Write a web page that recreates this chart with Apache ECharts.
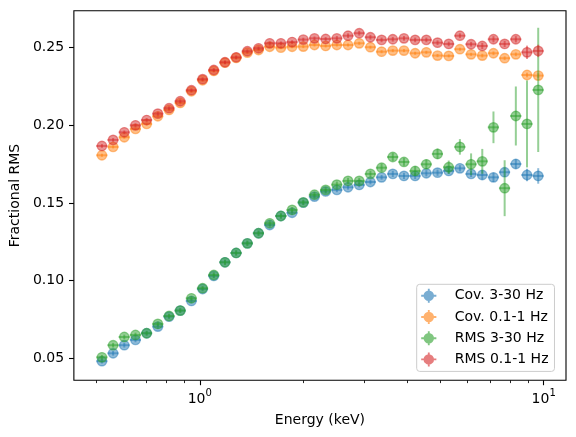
<!DOCTYPE html>
<html><head><meta charset="utf-8">
<script src="https://cdn.jsdelivr.net/npm/echarts@6/dist/echarts.min.js"></script>
<style>html,body{margin:0;padding:0;background:#fff}#c{width:576px;height:437px}</style>
</head><body><div id="c"></div>
<script>
// Energy bin edges (keV)
const binEdges = [0.5, 0.5389, 0.5808, 0.6259, 0.6746, 0.7271, 0.7836, 0.8446, 0.9103, 0.9810,
  1.0574, 1.1396, 1.2282, 1.3237, 1.4267, 1.5376, 1.6572, 1.7861, 1.9250, 2.0747,
  2.2361, 2.4100, 2.5974, 2.7994, 3.0171, 3.2517, 3.5046, 3.7771, 4.0709, 4.3874,
  4.7287, 5.0964, 5.4928, 5.9200, 6.3804, 6.8766, 7.4114, 7.9878, 8.6090, 9.2785, 10.0];

const covHigh = [0.0481, 0.0532, 0.0584, 0.0618, 0.0661, 0.0704, 0.0768, 0.0807, 0.0869, 0.0946,
  0.1030, 0.1118, 0.1178, 0.1240, 0.1305, 0.1358, 0.1416, 0.1437, 0.1502, 0.1541,
  0.1574, 0.1584, 0.1601, 0.1616, 0.1635, 0.1665, 0.1687, 0.1674, 0.1674, 0.1691,
  0.1695, 0.1706, 0.1723, 0.1687, 0.1680, 0.1665, 0.1698, 0.1751, 0.1680, 0.1674];
const covHighErr = [0.0015, 0.0015, 0.0015, 0.0015, 0.0015, 0.0015, 0.0015, 0.0015, 0.0015, 0.0015,
  0.0015, 0.0015, 0.0015, 0.0015, 0.0015, 0.0015, 0.0015, 0.0015, 0.0015, 0.0015,
  0.0015, 0.0015, 0.0015, 0.0015, 0.0015, 0.0015, 0.002, 0.002, 0.002, 0.002,
  0.002, 0.002, 0.002, 0.002, 0.003, 0.003, 0.003, 0.003, 0.004, 0.005];

const covLow = [0.1807, 0.1861, 0.1923, 0.1977, 0.2009, 0.2058, 0.2099, 0.2144, 0.2219, 0.2290,
  0.2350, 0.2403, 0.2434, 0.2468, 0.2485, 0.2506, 0.2500, 0.2506, 0.2507, 0.2517,
  0.2511, 0.2517, 0.2517, 0.2528, 0.2503, 0.2474, 0.2481, 0.2481, 0.2464, 0.2470,
  0.2449, 0.2447, 0.2490, 0.2457, 0.2449, 0.2464, 0.2432, 0.2457, 0.2324, 0.2320];
const covLowErr = [0.001, 0.001, 0.001, 0.001, 0.001, 0.001, 0.001, 0.001, 0.001, 0.001,
  0.001, 0.001, 0.001, 0.001, 0.001, 0.001, 0.001, 0.001, 0.001, 0.001,
  0.001, 0.001, 0.001, 0.001, 0.001, 0.001, 0.001, 0.001, 0.001, 0.001,
  0.001, 0.001, 0.001, 0.001, 0.0012, 0.0012, 0.0012, 0.0012, 0.0015, 0.0015];

const rmsHigh = [0.0506, 0.0584, 0.0637, 0.0650, 0.0661, 0.0721, 0.0772, 0.0807, 0.0886, 0.0951,
  0.1036, 0.1118, 0.1178, 0.1240, 0.1305, 0.1369, 0.1416, 0.1455, 0.1504, 0.1553,
  0.1584, 0.1618, 0.1642, 0.1642, 0.1687, 0.1727, 0.1796, 0.1764, 0.1706, 0.1749,
  0.1816, 0.1730, 0.1861, 0.1749, 0.1768, 0.1987, 0.1595, 0.2060, 0.2009, 0.2228];
const rmsHighErr = [0.0015, 0.0015, 0.0015, 0.0015, 0.0015, 0.0015, 0.0015, 0.0015, 0.0015, 0.0015,
  0.0018, 0.0018, 0.0018, 0.0018, 0.0018, 0.0018, 0.0018, 0.0018, 0.0018, 0.0018,
  0.0018, 0.002, 0.002, 0.002, 0.002, 0.0025, 0.0025, 0.0025, 0.003, 0.003,
  0.0034, 0.0043, 0.005, 0.007, 0.008, 0.0102, 0.018, 0.019, 0.028, 0.040];

const rmsLow = [0.1867, 0.1906, 0.1955, 0.2000, 0.2034, 0.2075, 0.2110, 0.2155, 0.2226, 0.2297,
  0.2356, 0.2406, 0.2438, 0.2477, 0.2496, 0.2528, 0.2528, 0.2536, 0.2552, 0.2560,
  0.2556, 0.2560, 0.2577, 0.2593, 0.2567, 0.2550, 0.2554, 0.2560, 0.2550, 0.2550,
  0.2532, 0.2524, 0.2577, 0.2522, 0.2511, 0.2554, 0.2524, 0.2554, 0.2470, 0.2479];
const rmsLowErr = [0.0012, 0.0012, 0.0012, 0.0012, 0.0012, 0.0012, 0.0012, 0.0012, 0.0012, 0.0012,
  0.0012, 0.0012, 0.0012, 0.0012, 0.0012, 0.0012, 0.0012, 0.0012, 0.0012, 0.0012,
  0.0012, 0.0015, 0.0015, 0.0015, 0.0015, 0.0015, 0.0015, 0.0015, 0.0015, 0.0015,
  0.0015, 0.0015, 0.0015, 0.0015, 0.002, 0.002, 0.002, 0.002, 0.0043, 0.004];

const seriesNames = ['Cov. 3-30 Hz', 'Cov. 0.1-1 Hz', 'RMS 3-30 Hz', 'RMS 0.1-1 Hz'];
const seriesColors = ['#1f77b4', '#ff7f0e', '#2ca02c', '#d62728'];
const xMajorTicks = [1, 10];
const xMinorTicks = [0.5, 0.6, 0.7, 0.8, 0.9, 2, 3, 4, 5, 6, 7, 8, 9];
const yTicks = [0.05, 0.10, 0.15, 0.20, 0.25];

function rgba(hex, a) {
  const n = parseInt(hex.slice(1), 16);
  return 'rgba(' + ((n >> 16) & 255) + ',' + ((n >> 8) & 255) + ',' + (n & 255) + ',' + a + ')';
}

function makeSeries(idx, vals, errs) {
  const color = seriesColors[idx];
  const data = vals.map((v, i) => [(binEdges[i] + binEdges[i + 1]) / 2, v, binEdges[i], binEdges[i + 1], errs[i]]);
  const c5 = rgba(color, 0.5);
  return {
    type: 'custom',
    name: seriesNames[idx],
    xAxisIndex: 0, yAxisIndex: 0,
    itemStyle: { color: rgba(color, 0.6) },
    encode: { x: 0, y: 1 },
    data: data,
    z: 2 + idx,
    renderItem: function (params, api) {
      const x = api.value(0), y = api.value(1), x0 = api.value(2), x1 = api.value(3), e = api.value(4);
      const c = api.coord([x, y]);
      const l = api.coord([x0, y]);
      const r = api.coord([x1, y]);
      const t = api.coord([x, y + e]);
      const b = api.coord([x, y - e]);
      return {
        type: 'group',
        children: [
          { type: 'line', shape: { x1: l[0], y1: c[1], x2: r[0], y2: c[1] }, style: { stroke: c5, lineWidth: 2 } },
          { type: 'line', shape: { x1: c[0], y1: t[1], x2: c[0], y2: b[1] }, style: { stroke: c5, lineWidth: 2 } },
          { type: 'circle', shape: { cx: c[0], cy: c[1], r: 4.7 }, style: { fill: c5, stroke: c5, lineWidth: 1.4 } }
        ]
      };
    }
  };
}

const iconPath = 'path://M2.5,7 A4.5,4.5 0 1,1 11.5,7 A4.5,4.5 0 1,1 2.5,7 Z M0.5,6.2 L13.5,6.2 L13.5,7.8 L0.5,7.8 Z M6.2,1 L7.8,1 L7.8,13 L6.2,13 Z';

const xMin = 0.4305, xMax = 11.61;
const yMin = 0.0358, yMax = 0.2738;
const font = 'DejaVu Sans';

const chart = echarts.init(document.getElementById('c'), null, { renderer: 'canvas' });
chart.setOption({
  animation: false,
  backgroundColor: '#fff',
  textStyle: { fontFamily: font },
  grid: { left: 70, right: 10, top: 10.7, bottom: 56.7, show: true, borderColor: '#000', borderWidth: 1.1, backgroundColor: 'transparent' },
  legend: {
    left: 416.7, top: 284.3,
    orient: 'vertical',
    itemWidth: 28, itemHeight: 14, itemGap: 7.2,
    padding: [4.5, 6, 5, 4.5],
    backgroundColor: 'rgba(255,255,255,0.8)',
    borderColor: '#cccccc', borderWidth: 1, borderRadius: 3,
    textStyle: { fontFamily: font, fontSize: 14, color: '#000', padding: [0, 0, 0, 7], lineHeight: 14 },
    data: seriesNames.map((n) => ({ name: n, icon: iconPath }))
  },
  xAxis: [{
    type: 'log', min: xMin, max: xMax, position: 'bottom',
    name: 'Energy (keV)', nameLocation: 'middle', nameGap: 33,
    nameTextStyle: { fontFamily: font, fontSize: 14, color: '#000' },
    axisLine: { show: false },
    splitLine: { show: false },
    axisTick: { show: true, inside: false, length: 4.9, customValues: xMajorTicks, lineStyle: { color: '#000', width: 1.1 } },
    axisLabel: {
      customValues: xMajorTicks, margin: 8,
      formatter: function (v) { return '{b|10}{s|' + Math.round(Math.log10(v)) + '}'; },
      rich: {
        b: { fontFamily: font, fontSize: 14, color: '#000', lineHeight: 18, verticalAlign: 'bottom' },
        s: { fontFamily: font, fontSize: 10, color: '#000', lineHeight: 18, verticalAlign: 'top' }
      }
    }
  }, {
    type: 'log', min: xMin, max: xMax, position: 'bottom',
    axisLine: { show: false }, splitLine: { show: false },
    axisLabel: { show: false },
    axisTick: { show: true, inside: false, length: 2.8, customValues: xMinorTicks, lineStyle: { color: '#000', width: 0.85 } }
  }],
  yAxis: {
    type: 'value', min: yMin, max: yMax,
    name: 'Fractional RMS', nameLocation: 'middle', nameGap: 47,
    nameTextStyle: { fontFamily: font, fontSize: 14, color: '#000' },
    axisLine: { show: false },
    splitLine: { show: false },
    axisTick: { show: true, inside: false, length: 4.9, customValues: yTicks, lineStyle: { color: '#000', width: 1.1 } },
    axisLabel: {
      customValues: yTicks, margin: 9.8, fontFamily: font, fontSize: 14, color: '#000',
      formatter: function (v) { return v.toFixed(2); }
    }
  },
  series: [
    makeSeries(0, covHigh, covHighErr),
    makeSeries(1, covLow, covLowErr),
    makeSeries(2, rmsHigh, rmsHighErr),
    makeSeries(3, rmsLow, rmsLowErr)
  ]
});
</script>
</body></html>
